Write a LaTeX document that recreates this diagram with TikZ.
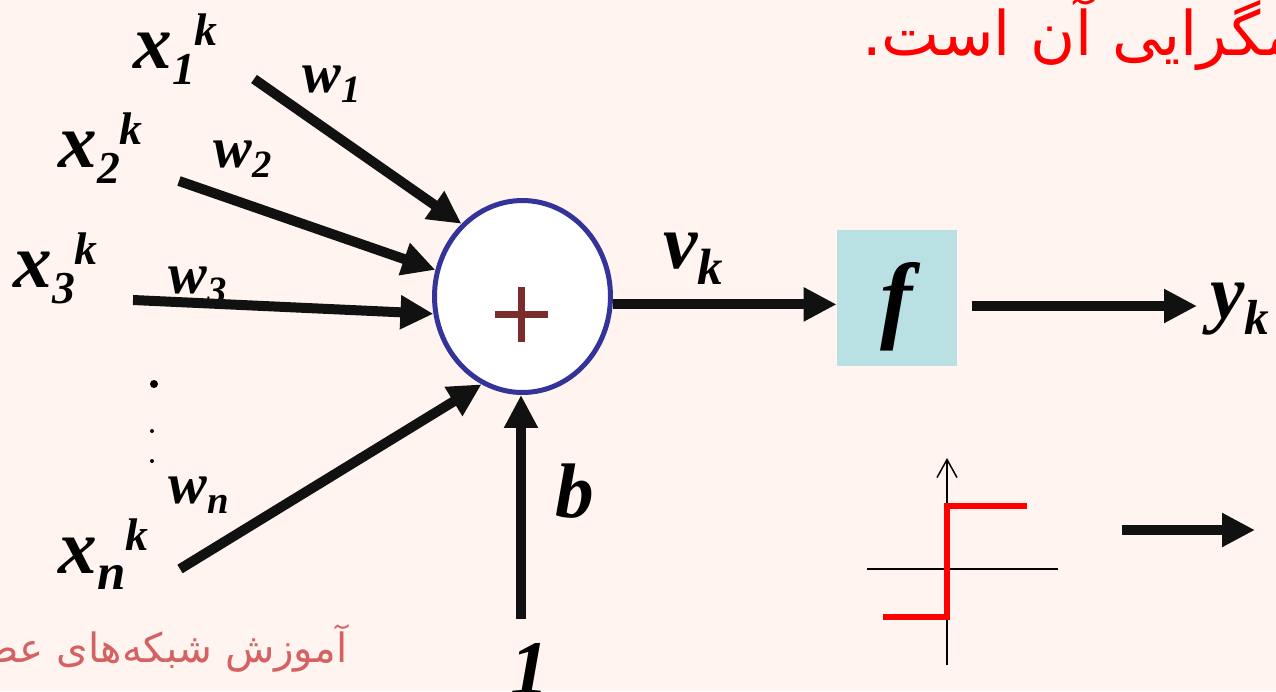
\documentclass[tikz,border=0pt]{standalone}
\usepackage{fontspec}
\setmainfont{Liberation Serif}
\newfontfamily\persianfont[Script=Arabic]{DejaVu Sans}
\TeXXeTstate=1
\usetikzlibrary{arrows.meta, shapes.geometric}
\definecolor{bgPeach}{HTML}{FFF4EF}
\definecolor{sumBlue}{HTML}{333399}
\definecolor{plusRed}{HTML}{7B2C2C}
\definecolor{boxTeal}{HTML}{B9E0E3}
\definecolor{titleRed}{HTML}{FF0000}
\definecolor{footSalmon}{HTML}{D46262}
\definecolor{arrowBlack}{HTML}{111111}
\newcommand{\lowr}[2][26]{\raisebox{-9.6pt}{\fontsize{#1}{#1}\selectfont #2}}
\newcommand{\highr}[1]{\raisebox{13pt}{\fontsize{26}{26}\selectfont #1}}
\newcommand{\wlowr}[1]{\raisebox{-6.2pt}{\fontsize{22}{22}\selectfont #1}}

\begin{document}
\begin{tikzpicture}[x=0.02cm, y=-0.02cm,
      lbl/.style={inner sep=0, anchor=base west, font=\fontsize{44}{44}\selectfont\bfseries\itshape},
      wlbl/.style={inner sep=0, anchor=base west, font=\fontsize{33}{33}\selectfont\bfseries\itshape},
      sumnode/.style={ellipse, draw=sumBlue, fill=white, line width=0.1cm, inner sep=0,
                      minimum width=3.52cm, minimum height=3.84cm},
      fbox/.style={fill=boxTeal, inner sep=0, minimum width=2.4cm, minimum height=2.72cm,
                   text height=37.4pt, text depth=0pt, font=\fontsize{55}{55}\selectfont\bfseries\itshape},
      arr/.style={-{Triangle[length=0.66cm, width=0.64cm]}, line width=0.2cm, arrowBlack},
      axis/.style={line width=0.03cm, black},
      stepline/.style={line width=0.11cm, titleRed}]
    \useasboundingbox (0,0) rectangle (1276,691);
    \fill[bgPeach] (0,0) rectangle (1276,691);
    \clip (0,0) rectangle (1276,691);
    % texts
    \node[inner sep=0, anchor=base west, font=\persianfont\fontsize{35}{35}\selectfont, text=titleRed] (title) at (862,55) {\beginR همگرایی آن است.\endR};
    \node[inner sep=0, anchor=base east, font=\persianfont\fontsize{23}{23}\selectfont, text=footSalmon] (foot) at (348,662) {\beginR آموزش شبکه‌های عصبی\endR};
    % neuron
    \node[sumnode] (sum) at (522.5,296.5) {};
    \draw[plusRed, line width=0.14cm] (495,314) -- (548,314) (521,287) -- (521,342);
    \node[fbox] (f) at (897,298) {f};
    % inputs
    \node[lbl] (x1) at (133,68) {x\lowr{1}\highr{k}};
    \node[lbl] (x2) at (58,167) {x\lowr{2}\highr{k}};
    \node[lbl] (x3) at (13,287) {x\lowr{3}\highr{k}};
    \node[lbl] (xn) at (58,573) {x\lowr[29]{n}\highr{k}};
    \node[wlbl] (w1) at (302,92) {w\wlowr{1}};
    \node[wlbl] (w2) at (213,167) {w\wlowr{2}};
    \node[wlbl] (w3) at (168,293) {w\wlowr{3}};
    \node[wlbl] (wn) at (168,503) {w\wlowr{n}};
    \fill (154,384) circle (4) (152,431) circle (2) (152,461) circle (2);
    \coordinate (s1) at (254,79);
    \coordinate (s2) at (179,181);
    \coordinate (s3) at (133,300);
    \coordinate (sn) at (180,569);
    \draw[arr] (s1) -- (sum.130);
    \draw[arr] (s2) -- (sum.163);
    \draw[arr] (s3) -- (sum.191);
    \draw[arr] (sn) -- (sum.245);
    % bias
    \node[lbl] (b) at (555,517) {b};
    \node[lbl] (one) at (510,694) {1};
    \coordinate (bstart) at (521,619);
    \draw[arr] (bstart) -- (bstart |- sum.south);
    % output
    \node[lbl] (vk) at (663,268) {v\lowr[29]{k}};
    \draw[arr] (sum.-5) -- (sum.-5 -| f.west);
    \coordinate (fout) at (972,306);
    \coordinate (yin) at (1197,306);
    \draw[arr] (fout) -- (yin);
    \node[lbl] (yk) at (1210,318) {y\lowr[28]{k}};
    % step function
    \draw[axis, -{Straight Barb[length=0.36cm, width=0.4cm]}] (947,665) -- (947,458);
    \draw[axis] (867,569) -- (1058,569);
    \draw[stepline] (883,617) -- (947,617) -- (947,506) -- (1027,506);
    \coordinate (hs) at (1122,530);
    \coordinate (he) at (1255,530);
    \draw[arr] (hs) -- (he);
  \end{tikzpicture}
\end{document}
